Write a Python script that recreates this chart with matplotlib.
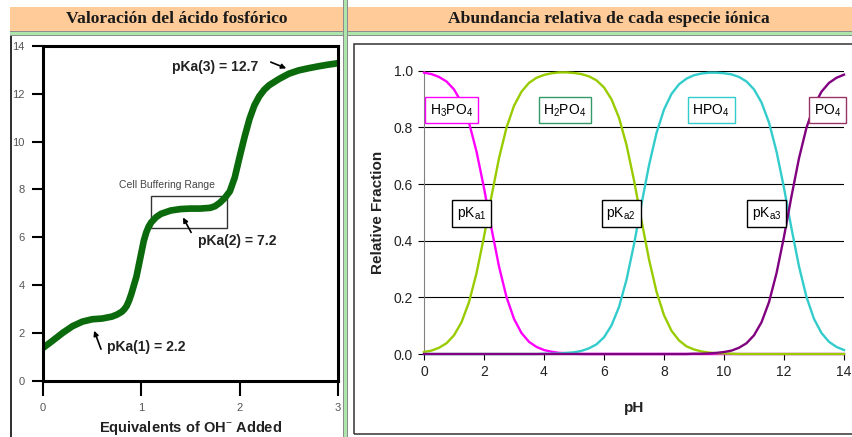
import matplotlib
matplotlib.use('Agg')
import matplotlib.pyplot as plt
from matplotlib.patches import Rectangle
import numpy as np

# titration curve of phosphoric acid
equiv = [0.0, 0.1, 0.2, 0.3, 0.4, 0.5, 0.6, 0.7, 0.75, 0.8, 0.825, 0.85, 0.875,
         0.9, 0.95, 1.0, 1.025, 1.05, 1.075, 1.1, 1.15, 1.2, 1.3, 1.4, 1.5, 1.6,
         1.7, 1.75, 1.8, 1.85, 1.9, 1.95, 2.0, 2.05, 2.1, 2.15, 2.2, 2.25, 2.3,
         2.4, 2.5, 2.6, 2.7, 2.8, 2.9, 3.0]
ph_titr = [1.37, 1.68, 2.0, 2.28, 2.47, 2.57, 2.6, 2.68, 2.76, 2.88, 2.98, 3.12,
           3.35, 3.65, 4.35, 5.35, 5.85, 6.2, 6.45, 6.62, 6.84, 6.98, 7.12, 7.18,
           7.2, 7.2, 7.23, 7.3, 7.45, 7.65, 7.92, 8.5, 9.37, 10.2, 10.95, 11.52,
           11.9, 12.17, 12.36, 12.62, 12.84, 12.98, 13.07, 13.15, 13.22, 13.28]

# species fractions vs pH (0 .. 14, step 0.25)
ph = np.linspace(0, 14, 57)
h3po4 = [0.993, 0.988, 0.978, 0.962, 0.934, 0.888, 0.817, 0.715, 0.586, 0.443,
         0.309, 0.201, 0.124, 0.074, 0.043, 0.025, 0.014, 0.008, 0.004, 0.003,
         0.001] + [0.0] * 36
h2po4 = [0.007, 0.012, 0.022, 0.038, 0.066, 0.112, 0.183, 0.285, 0.414, 0.557,
         0.691, 0.799, 0.876, 0.926, 0.957, 0.975, 0.985, 0.991, 0.994, 0.994,
         0.992, 0.988, 0.980, 0.966, 0.941, 0.899, 0.834, 0.738, 0.613, 0.471,
         0.334, 0.220, 0.137, 0.082, 0.048, 0.027, 0.016, 0.009, 0.005, 0.003,
         0.002, 0.001] + [0.0] * 15
hpo4 = [0.0] * 16 + [0.001, 0.001, 0.002, 0.004, 0.006, 0.011, 0.020, 0.034,
                     0.059, 0.101, 0.166, 0.262, 0.387, 0.529, 0.666, 0.780,
                     0.863, 0.918, 0.952, 0.972, 0.984, 0.990, 0.993, 0.993,
                     0.991, 0.987, 0.978, 0.962, 0.934, 0.888, 0.817, 0.715,
                     0.586, 0.443, 0.309, 0.201, 0.124, 0.074, 0.043, 0.025,
                     0.014]
po4 = [0.0] * 36 + [0.001, 0.001, 0.002, 0.004, 0.007, 0.012, 0.022, 0.038,
                    0.066, 0.112, 0.183, 0.285, 0.414, 0.557, 0.691, 0.799,
                    0.876, 0.926, 0.957, 0.975, 0.986]

species = ['H$_3$PO$_4$', 'H$_2$PO$_4$', 'HPO$_4$', 'PO$_4$']
pka_labels = ['pK$_{\\mathrm{a1}}$', 'pK$_{\\mathrm{a2}}$', 'pK$_{\\mathrm{a3}}$']

plt.rcParams['font.family'] = ['Liberation Sans', 'DejaVu Sans']
plt.rcParams['mathtext.fontset'] = 'custom'
plt.rcParams['mathtext.rm'] = 'Liberation Sans'
plt.rcParams['mathtext.it'] = 'Liberation Sans:italic'
plt.rcParams['mathtext.bf'] = 'Liberation Sans:bold'

W, H = 852, 437
fig = plt.figure(figsize=(W / 100, H / 100), dpi=100)


def fx(px):
    return px / W


def fy(py):
    return 1 - py / H


def band(x0, y0, x1, y1, color):
    fig.patches.append(Rectangle((fx(x0), fy(y1)), fx(x1) - fx(x0), fy(y0) - fy(y1),
                                 transform=fig.transFigure, color=color, lw=0, zorder=0))


# page header and separators
band(10, 7, 852, 31, '#ffcc99')
band(10, 31, 852, 32, '#8c8c8c')
band(10, 32, 852, 35, '#ade5ad')
band(10, 35, 852, 36, '#8c8c8c')
band(343, 0, 344, 437, '#8c8c8c')
band(344, 0, 347, 437, '#ade5ad')
band(347, 0, 348, 437, '#8c8c8c')
band(10, 36, 11.5, 437, '#333333')
fig.patches.append(Rectangle((fx(354), fy(434)), fx(870) - fx(354), fy(44) - fy(434),
                             transform=fig.transFigure, fill=False, ec='#333333', lw=1.1))

fig.text(fx(177), fy(19), 'Valoración del ácido fosfórico', ha='center', va='center',
         family=['Liberation Serif'], weight='bold', fontsize=12.6, color='#1a1a1a')
fig.text(fx(609), fy(19), 'Abundancia relativa de cada especie iónica', ha='center', va='center',
         family=['Liberation Serif'], weight='bold', fontsize=12.6, color='#1a1a1a')

# left: titration curve
axL = fig.add_axes([fx(43), fy(380.7), fx(338) - fx(43), fy(46) - fy(380.7)])
axL.plot(equiv, ph_titr, color='#0b6a0b', lw=4.8, solid_capstyle='round',
         solid_joinstyle='round')
axL.set_xlim(0, 3)
axL.set_ylim(0, 14)
axL.set_xticks([0, 1, 2, 3])
axL.set_yticks(range(0, 15, 2))
for s in axL.spines.values():
    s.set_linewidth(2.2)
    s.set_color('black')
axL.tick_params(axis='y', direction='out', length=8, width=1.5, pad=5,
                labelsize=8, labelcolor='#555555')
axL.tick_params(axis='x', direction='out', length=11, width=1.5, pad=5,
                labelsize=8, labelcolor='#555555')
axL.set_xlabel('Equivalents of OH$^{-}$ Added', fontsize=10.5, weight='bold',
               color='#222222', va='center')
axL.xaxis.set_label_coords(0.5, -0.140)

axL.text(1.31, 13.14, 'pKa(3) = 12.7', fontsize=10, weight='bold', va='center', color='#222222')
axL.annotate('', xy=(2.50, 13.02), xytext=(2.29, 13.37),
             arrowprops=dict(arrowstyle='-|>', lw=1.2, color='black', mutation_scale=7))
axL.text(1.58, 5.86, 'pKa(2) = 7.2', fontsize=10, weight='bold', va='center', color='#222222')
axL.annotate('', xy=(1.41, 6.93), xytext=(1.52, 6.1),
             arrowprops=dict(arrowstyle='-|>', lw=1.2, color='black', mutation_scale=7))
axL.text(0.65, 1.42, 'pKa(1) = 2.2', fontsize=10, weight='bold', va='center', color='#222222')
axL.annotate('', xy=(0.51, 2.2), xytext=(0.60, 1.21),
             arrowprops=dict(arrowstyle='-|>', lw=1.2, color='black', mutation_scale=7))

axL.add_patch(Rectangle((1.10, 6.40), 0.77, 1.34, fill=False, ec='#333333', lw=1.0))
axL.text(1.26, 8.19, 'Cell Buffering Range', fontsize=7.5, ha='center', va='center',
         color='#444444')

# right: relative abundance of each species
axR = fig.add_axes([fx(424), fy(354), fx(844) - fx(424), fy(70.7) - fy(354)])
series = [h3po4, h2po4, hpo4, po4]
colors = ['#ff00ff', '#99cc00', '#33cccc', '#800080']
for vals, c in zip(series, colors):
    axR.plot(ph, vals, color=c, lw=1.7, clip_on=False, zorder=3)
axR.set_xlim(0, 14)
axR.set_ylim(0, 1)
axR.set_xticks(range(0, 15, 2))
axR.set_yticks([0, 0.2, 0.4, 0.6, 0.8, 1.0])
axR.set_yticklabels(['0.0', '0.2', '0.4', '0.6', '0.8', '1.0'])
axR.yaxis.grid(True, color='black', lw=0.8)
axR.set_axisbelow(True)
axR.spines['top'].set_visible(False)
axR.spines['right'].set_visible(False)
axR.spines['left'].set_color('#808080')
axR.spines['left'].set_linewidth(0.8)
axR.spines['bottom'].set_linewidth(0.8)
axR.tick_params(direction='out', length=4, width=0.8, labelsize=10, labelcolor='#222222', pad=4)
axR.set_xlabel('pH', fontsize=11, weight='bold', color='#222222', va='center')
axR.xaxis.set_label_coords(0.5, -0.19)
axR.set_ylabel('Relative Fraction', fontsize=11, weight='bold', color='#222222', va='center')
axR.yaxis.set_label_coords(-0.11, 0.5)

box_edges = ['#ff00ff', '#339966', '#33cccc', '#993366']
box_x = [0.92, 4.7, 9.57, 13.45]
for s, x, ec in zip(species, box_x, box_edges):
    axR.text(x, 0.86, s, ha='center', va='center', fontsize=10, zorder=5,
             bbox=dict(boxstyle='square,pad=0.35', fc='white', ec=ec, lw=1.0))
for s, x in zip(pka_labels, [1.58, 6.57, 11.43]):
    axR.text(x, 0.496, s, ha='center', va='center', fontsize=10, zorder=5,
             bbox=dict(boxstyle='square,pad=0.35', fc='white', ec='black', lw=1.0))

fig.savefig('out.png', dpi=100)
